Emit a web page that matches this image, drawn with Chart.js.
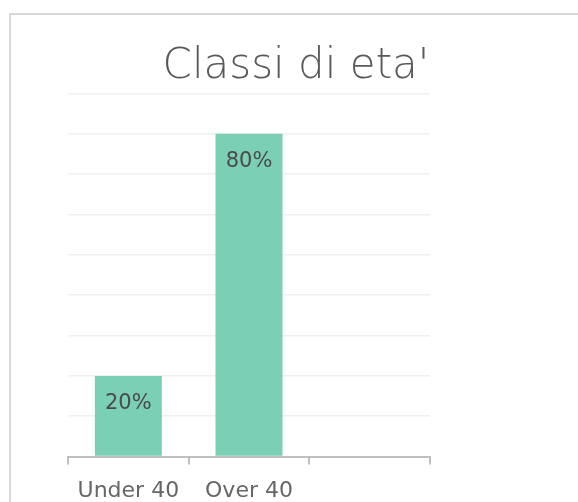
<!DOCTYPE html>
<html><head><meta charset="utf-8">
<script src="https://cdn.jsdelivr.net/npm/chart.js@4.4.1/dist/chart.umd.min.js"></script>
<style>
html,body{margin:0;padding:0;width:578px;height:502px;overflow:hidden;background:#fff}
#frame{position:absolute;left:9px;top:13px;width:620px;height:540px;border:2px solid #d9d9d9;box-sizing:border-box}
#wrap{position:absolute;left:0;top:0;width:570px;height:508px}
</style></head><body>
<div id="frame"><div id="wrap"><canvas id="c"></canvas></div></div>
<script>
const categories = ['Under 40', 'Over 40', ''];
const shares = [0.2, 0.8, null];
const titleText = "Classi di eta'";
const FONT = "'DejaVu Sans', sans-serif";

const valueLabels = {
  id: 'valueLabels',
  afterDatasetsDraw(chart) {
    const ctx = chart.ctx;
    const meta = chart.getDatasetMeta(0);
    ctx.save();
    ctx.font = "normal 21px " + FONT;
    ctx.fillStyle = '#4a4a4a';
    ctx.textAlign = 'center';
    ctx.textBaseline = 'middle';
    meta.data.forEach((bar, i) => {
      const v = chart.data.datasets[0].data[i];
      if (v == null) return;
      ctx.fillText(Math.round(v * 100) + '%', bar.x, bar.y + 28);
    });
    ctx.restore();
  }
};

new Chart(document.getElementById('c'), {
  type: 'bar',
  data: {
    labels: categories,
    datasets: [{
      data: shares,
      backgroundColor: '#7bcfb5',
      borderWidth: 0,
      barPercentage: 0.555,
      categoryPercentage: 1
    }]
  },
  options: {
    responsive: true,
    maintainAspectRatio: false,
    animation: false,
    layout: { padding: { bottom: 6 } },
    plugins: {
      legend: { display: false },
      tooltip: { enabled: false },
      title: {
        display: true,
        text: titleText,
        color: '#595959',
        font: { family: FONT, size: 42, weight: 300, lineHeight: 1.2 },
        padding: { top: 27, bottom: 1 }
      }
    },
    scales: {
      x: {
        offset: true,
        grid: { display: true, drawOnChartArea: false, drawTicks: true, tickLength: 8, color: '#bfbfbf', lineWidth: 2, offset: true },
        border: { display: true, color: '#bfbfbf', width: 2 },
        ticks: { color: '#666666', font: { family: FONT, size: 22, weight: 'normal' }, padding: 13, maxRotation: 0 }
      },
      y: {
        min: 0, max: 0.9,
        ticks: { display: false, stepSize: 0.1 },
        grid: { color: '#f0f0f0', lineWidth: 1.5, drawTicks: false },
        border: { display: false },
        afterFit(axis) { axis.width = 57; }
      },
      y2: {
        position: 'right',
        display: true,
        ticks: { display: false },
        grid: { display: false },
        border: { display: false },
        afterFit(axis) { axis.width = 151; }
      }
    }
  },
  plugins: [valueLabels]
});
</script>
</body></html>
